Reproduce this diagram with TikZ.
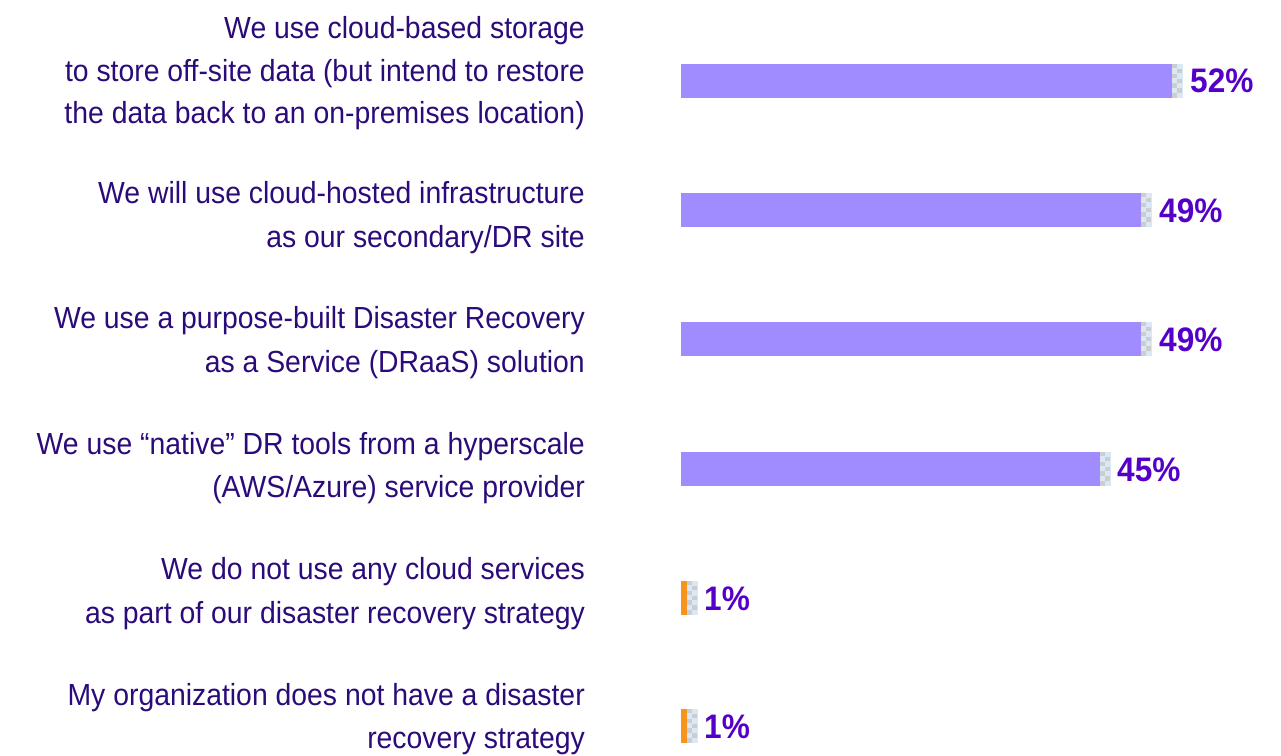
\documentclass[tikz,border=0pt]{standalone}
\usepackage{fontspec}
\setmainfont{Liberation Sans}
\newfontfamily\labelfont[FakeStretch=0.93]{Liberation Sans}
\newfontfamily\valuefont[FakeStretch=0.93]{Liberation Sans Bold}
\definecolor{labeltext}{HTML}{2B0A7A}
\definecolor{valuetext}{HTML}{5500C8}
\definecolor{barfill}{HTML}{A08CFF}
\definecolor{baralt}{HTML}{F7941D}
\definecolor{checkbg}{HTML}{D9E8F7}
\definecolor{checksq}{HTML}{CDCDCD}
\tikzset{
  lbl/.style={anchor=base east, inner sep=0pt, text=labeltext,
    font=\labelfont\fontsize{30.5bp}{40bp}\selectfont},
  val/.style={anchor=base west, inner sep=0pt, text=valuetext,
    font=\valuefont\fontsize{34bp}{40bp}\selectfont},
}
% checkered end cap of a bar: left x, top y
\newcommand{\barcap}[2]{%
  \fill[checkbg] (#1,#2) rectangle ++(10.5,34);
  \foreach \r in {0,...,6}{%
    \pgfmathsetmacro{\cx}{#1+5.25*mod(\r,2)}%
    \fill[checksq] (\cx,#2+\r*4.857) rectangle ++(4.6,4.4);
  }%
}
\begin{document}
\begin{tikzpicture}[x=1bp,y=-1bp]
\useasboundingbox (0,0) rectangle (1281,756);

% labels
\node[lbl] (a1) at (585,38.5) {We use cloud-based storage};
\node[lbl] (a2) at (585,81.5) {to store off-site data (but intend to restore};
\node[lbl] (a3) at (585,124) {the data back to an on-premises location)};
\node[lbl] (b1) at (585,203.5) {We will use cloud-hosted infrastructure};
\node[lbl] (b2) at (585,247) {as our secondary/DR site};
\node[lbl] (c1) at (585,328.5) {We use a purpose-built Disaster Recovery};
\node[lbl] (c2) at (585,372.5) {as a Service (DRaaS) solution};
\node[lbl] (d1) at (585,454) {We use “native” DR tools from a hyperscale};
\node[lbl] (d2) at (585,497.5) {(AWS/Azure) service provider};
\node[lbl] (e1) at (585,579.5) {We do not use any cloud services};
\node[lbl] (e2) at (585,623) {as part of our disaster recovery strategy};
\node[lbl] (f1) at (585,705) {My organization does not have a disaster};
\node[lbl] (f2) at (585,748) {recovery strategy};

% bars
\fill[barfill] (681,64) rectangle (1172,98);  \barcap{1172}{64}
\fill[barfill] (681,193) rectangle (1141,227); \barcap{1141}{193}
\fill[barfill] (681,322) rectangle (1141,356); \barcap{1141}{322}
\fill[barfill] (681,452) rectangle (1100,486); \barcap{1100}{452}
\fill[baralt] (681,581) rectangle (687,615);   \barcap{687}{581}
\fill[baralt] (681,709) rectangle (687,743);   \barcap{687}{709}

% values
\node[val] (v1) at (1190,93) {52\%};
\node[val] (v2) at (1159,222) {49\%};
\node[val] (v3) at (1159,351) {49\%};
\node[val] (v4) at (1117,481) {45\%};
\node[val] (v5) at (704,610) {1\%};
\node[val] (v6) at (704,738) {1\%};
\end{tikzpicture}
\end{document}
